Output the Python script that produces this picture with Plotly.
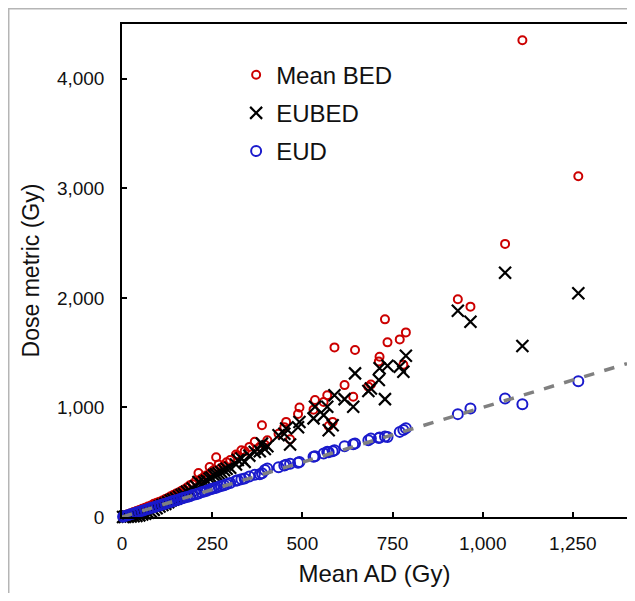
import plotly.graph_objects as go

# Mean absorbed dose per lesion (Gy)
mean_ad = [1265, 1110, 1062, 966, 931,
           787, 780, 770, 736, 729, 714, 712, 690, 683, 646, 641, 617, 589, 584, 573,
           569, 559, 535, 531, 492, 488, 466, 455, 450, 434, 403, 396, 388, 382, 368,
           353, 340, 331, 321, 316, 300, 290, 283, 275, 268, 261, 255, 248, 243, 235,
           228, 220, 212, 205, 196, 188, 180, 172, 165, 158, 150, 142, 135, 128, 120,
           112, 104, 96, 88, 80, 72, 64, 56, 48, 40, 32, 24, 16, 8, 3]

mean_bed = [3111, 4351, 2493, 1920, 1987,
            1685, 1390, 1621, 1594, 1804, 1463, 1420, 1210, 1190, 1524, 1097, 1204, 1548, 868, 830,
            1112, 1050, 1067, 980, 1000, 940, 710, 868, 820, 760, 700, 660, 838, 640, 686,
            640, 600, 610, 560, 570, 520, 500, 470, 450, 480, 546, 430, 410, 457, 380,
            370, 350, 402, 330, 300, 290, 270, 250, 240, 225, 215, 200, 190, 175, 165,
            150, 140, 130, 120, 105, 95, 85, 75, 65, 55, 45, 35, 25, 15, 8]

eubed = [2042, 1560, 2230, 1783, 1883,
         1472, 1325, 1371, 1380, 1076, 1357, 1250, 1173, 1150, 1311, 1006, 1076, 1112, 838, 792,
         1006, 930, 1006, 900, 868, 820, 662, 808, 760, 747, 646, 620, 670, 600, 594,
         560, 503, 534, 520, 480, 450, 440, 427, 410, 400, 390, 380, 360, 350, 330,
         320, 300, 320, 280, 260, 240, 230, 210, 200, 185, 170, 160, 150, 135, 120,
         110, 95, 80, 65, 50, 40, 30, 22, 15, 10, 6, 4, 2, 1, 0]

eud = [1240, 1030, 1082, 991, 939,
       811, 795, 777, 731, 735, 725, 720, 716, 700, 671, 665, 646, 610, 600, 590,
       595, 580, 555, 550, 503, 495, 485, 478, 470, 455, 442, 430, 400, 390, 385,
       370, 352, 345, 335, 330, 310, 298, 290, 282, 275, 268, 262, 255, 250, 240,
       232, 225, 215, 208, 200, 190, 182, 175, 168, 160, 152, 145, 137, 130, 122,
       114, 106, 98, 90, 82, 73, 65, 57, 49, 41, 33, 25, 17, 9, 3]

identity_x = [0, 1400]

FONT = "Arial, Liberation Sans"

fig = go.Figure()
fig.add_trace(go.Scatter(
    x=mean_ad, y=mean_bed, mode="markers", name="Mean BED", legendgroup="a",
    marker=dict(symbol="circle-open", size=8, color="#cc0000", line=dict(width=2, color="#cc0000")),
    cliponaxis=False))
fig.add_trace(go.Scatter(
    x=mean_ad, y=eubed, mode="markers", name="EUBED", legendgroup="b",
    marker=dict(symbol="x-thin-open", size=12, color="black", line=dict(width=2.2, color="black")),
    cliponaxis=False))
fig.add_trace(go.Scatter(
    x=mean_ad, y=eud, mode="markers", name="EUD", legendgroup="c",
    marker=dict(symbol="circle-open", size=10, color="#1a1acc", line=dict(width=2, color="#1a1acc")),
    cliponaxis=False))
fig.add_trace(go.Scatter(
    x=identity_x, y=identity_x, mode="lines", showlegend=False,
    line=dict(color="#808080", width=3.5, dash="dash")))

axis_common = dict(
    showline=True, linecolor="black", linewidth=1.5, mirror=True,
    ticks="inside", ticklen=5, tickwidth=1.5, tickcolor="black",
    showgrid=False, zeroline=False, automargin=False,
    tickfont=dict(family=FONT, size=19, color="#111"),
    tickformat=",d",
)

fig.update_xaxes(range=[0, 1400], tickvals=[0, 250, 500, 750, 1000, 1250],
                 title=dict(text="Mean AD (Gy)", font=dict(family=FONT, size=24, color="#111"), standoff=13),
                 ticklabelstandoff=8, **axis_common)
fig.update_yaxes(range=[0, 4500], tickvals=[0, 1000, 2000, 3000, 4000],
                 title=dict(text="Dose metric (Gy)", font=dict(family=FONT, size=23, color="#111"), standoff=11),
                 ticklabelstandoff=12, **axis_common)

fig.update_layout(
    width=620, height=585,
    margin=dict(l=114, r=1, t=16, b=76),
    paper_bgcolor="white", plot_bgcolor="white",
    showlegend=True,
    legend=dict(x=0.226, y=0.942, xanchor="left", yanchor="top",
                font=dict(family=FONT, size=24, color="#111"),
                bgcolor="rgba(0,0,0,0)", tracegroupgap=4, itemwidth=30),
    shapes=[dict(type="rect", xref="paper", yref="paper",
                 x0=-0.2243, x1=1.01, y0=-0.2, y1=1.031,
                 line=dict(color="#b5b5b5", width=1.5), layer="below")],
)

fig.write_html("out.html")
